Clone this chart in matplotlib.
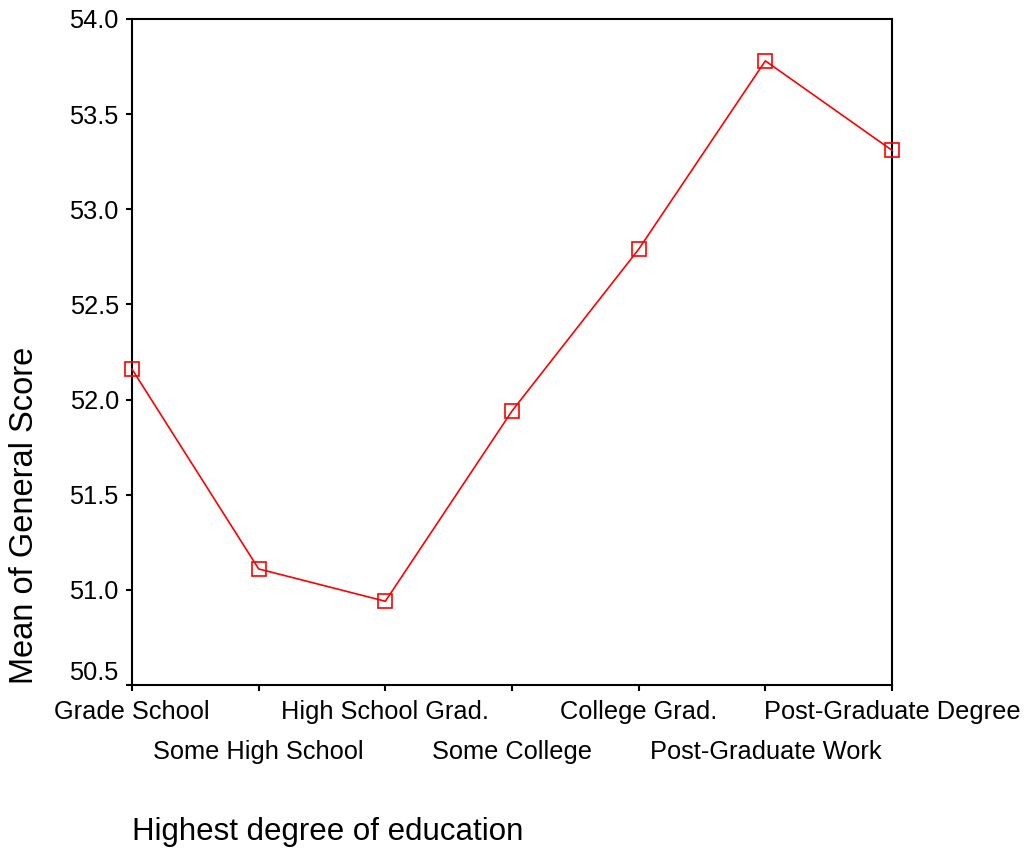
import matplotlib
matplotlib.use("Agg")
import matplotlib.pyplot as plt
from matplotlib.ticker import FixedLocator, FixedFormatter

plt.rcParams['font.family'] = ['Liberation Sans', 'DejaVu Sans']

# Mean general score by highest degree of education
categories = ["Grade School", "Some High School", "High School Grad.", "Some College",
              "College Grad.", "Post-Graduate Work", "Post-Graduate Degree"]
mean_score = [52.16, 51.11, 50.94, 51.94, 52.79, 53.78, 53.31]
y_ticks = [50.5, 51.0, 51.5, 52.0, 52.5, 53.0, 53.5, 54.0]
y_tick_labels = ["50.5", "51.0", "51.5", "52.0", "52.5", "53.0", "53.5", "54.0"]

fig = plt.figure(figsize=(10.26, 8.5), dpi=100)
ax = fig.add_axes([132 / 1026, (850 - 685) / 850, 760 / 1026, 666 / 850])

x = list(range(len(categories)))
ax.plot(x, mean_score, color="#ff0000", linewidth=1.2, marker="s", markersize=10,
        markerfacecolor="none", markeredgecolor="#ff0000", markeredgewidth=1.2,
        clip_on=False, zorder=3)

ax.set_xlim(0, len(categories) - 1)
ax.set_ylim(y_ticks[0], y_ticks[-1])

# Alternate category labels on two rows: even positions as major ticks,
# odd positions as minor ticks with a larger pad
ax.xaxis.set_major_locator(FixedLocator(x[0::2]))
ax.xaxis.set_major_formatter(FixedFormatter(categories[0::2]))
ax.xaxis.set_minor_locator(FixedLocator(x[1::2]))
ax.xaxis.set_minor_formatter(FixedFormatter(categories[1::2]))

ax.set_yticks(y_ticks)
ax.set_yticklabels(y_tick_labels)

for side in ["left", "right", "top", "bottom"]:
    ax.spines[side].set_linewidth(1.5)
    ax.spines[side].set_color("black")

ax.tick_params(axis="both", which="both", direction="out", length=4.5, width=1.5,
               colors="black", labelsize=18.3, top=False, right=False)
ax.tick_params(axis="x", which="major", pad=6)
ax.tick_params(axis="x", which="minor", pad=35)
ax.tick_params(axis="y", which="major", pad=5)

# Lift the lowest value label off the x axis
ax.yaxis.get_major_ticks()[0].label1.set_verticalalignment("bottom")

ax.set_ylabel("Mean of General Score", fontsize=23.5)
ax.yaxis.set_label_coords(-0.141, 0.255)
ax.yaxis.label.set_verticalalignment("center")

ax.set_xlabel("Highest degree of education", fontsize=22.5, loc="left")
ax.xaxis.set_label_coords(0.0, -0.2207)
ax.xaxis.label.set_verticalalignment("center")

fig.savefig("out.png", dpi=100)
